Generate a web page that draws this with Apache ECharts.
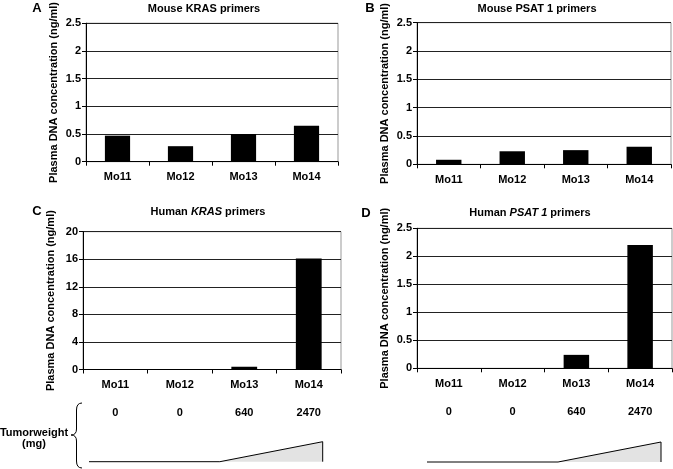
<!DOCTYPE html>
<html>
<head>
<meta charset="utf-8">
<script src="https://cdn.jsdelivr.net/npm/echarts@6/dist/echarts.min.js"></script>
<style>
html,body{margin:0;padding:0;background:#fff;}
#c{width:673px;height:469px;}
</style>
</head>
<body>
<div id="c"></div>
<script>
// ---- data ----
const categories = ['Mo11', 'Mo12', 'Mo13', 'Mo14'];
const mouseKras = [0.47, 0.28, 0.5, 0.65];
const mousePsat = [0.08, 0.23, 0.25, 0.31];
const humanKras = [0, 0, 0.4, 16.1];
const humanPsat = [0, 0, 0.24, 2.2];
const tumorWeights = ['0', '0', '640', '2470'];
const rampX = [0, 0.56, 1, 1];
const rampY = [0, 0, 1, 0];
const smallAxis = { min: 0, max: 2.5, interval: 0.5 };
const bigAxis = { min: 0, max: 20, interval: 4 };
const yName = 'Plasma DNA concentration (ng/ml)';

const FONT = '"Liberation Sans", Arial, Helvetica, sans-serif';
const chart = echarts.init(document.getElementById('c'), null, { renderer: 'canvas' });

const grids = [
  { left: 86, top: 22.3, width: 252, height: 139.4 },   // A
  { left: 417, top: 22.7, width: 254, height: 141.6 },  // B
  { left: 83, top: 231.7, width: 258, height: 137.8 },  // C
  { left: 417, top: 228.3, width: 255, height: 140 },   // D
  { left: 89, top: 441.7, width: 233.7, height: 20 },   // ramp left
  { left: 427, top: 442, width: 234, height: 20 }       // ramp right
].map((g, i) => Object.assign({
  show: i < 4, borderColor: '#999', borderWidth: 1, containLabel: false
}, g));

function catAxis(gi) {
  return {
    type: 'category', gridIndex: gi, data: categories,
    axisLine: { show: true, lineStyle: { color: '#000', width: 1 } },
    axisTick: { show: true, length: 4, lineStyle: { color: '#000' } },
    axisLabel: { interval: 0, margin: 10, color: '#000', fontWeight: 'bold', fontSize: 11, fontFamily: FONT },
    splitLine: { show: false }
  };
}
function weightAxis(gi) {
  return {
    type: 'category', gridIndex: gi, data: tumorWeights, position: 'bottom', offset: 31,
    axisLine: { show: false }, axisTick: { show: false },
    axisLabel: { interval: 0, margin: 7, color: '#000', fontWeight: 'bold', fontSize: 11, fontFamily: FONT },
    splitLine: { show: false }
  };
}
function valAxis(gi, sc) {
  return {
    type: 'value', gridIndex: gi, min: sc.min, max: sc.max, interval: sc.interval,
    name: yName, nameLocation: 'middle', nameGap: 27,
    nameTextStyle: { color: '#000', fontWeight: 'bold', fontSize: 11, fontFamily: FONT },
    axisLine: { show: true, lineStyle: { color: '#000', width: 1 } },
    axisTick: { show: true, length: 4, lineStyle: { color: '#000' } },
    axisLabel: { margin: 5, color: '#000', fontWeight: 'bold', fontSize: 11, fontFamily: FONT },
    splitLine: { show: true, lineStyle: { color: '#222', width: 1 } }
  };
}
function hiddenVal(gi) {
  return {
    type: 'value', gridIndex: gi, min: 0, max: 1,
    axisLine: { show: false }, axisTick: { show: false }, axisLabel: { show: false },
    splitLine: { show: false }
  };
}

const xAxes = [catAxis(0), catAxis(1), catAxis(2), catAxis(3), weightAxis(2), weightAxis(3), hiddenVal(4), hiddenVal(5)];
const yAxes = [valAxis(0, smallAxis), valAxis(1, smallAxis), valAxis(2, bigAxis), valAxis(3, smallAxis), hiddenVal(4), hiddenVal(5)];

function bars(xi, yi, data) {
  return {
    type: 'bar', xAxisIndex: xi, yAxisIndex: yi, data: data,
    barWidth: '40%', itemStyle: { color: '#000' }, silent: true
  };
}
function ramp(xi, yi) {
  return {
    type: 'line', xAxisIndex: xi, yAxisIndex: yi,
    data: rampX.map((x, i) => [x, rampY[i]]),
    symbol: 'none', lineStyle: { color: '#000', width: 1 },
    areaStyle: { color: '#e3e3e3', opacity: 1 }, silent: true, clip: false
  };
}

function txt(x, y, text, size, extra) {
  return {
    type: 'text', x: x, y: y, silent: true,
    style: Object.assign({
      text: text, fill: '#000', font: 'bold ' + size + 'px ' + FONT,
      textAlign: 'center', textVerticalAlign: 'middle'
    }, extra || {})
  };
}
const richTitle = {
  n: { fontWeight: 'bold', fontSize: 11, fontFamily: FONT, fill: '#000', color: '#000' },
  i: { fontWeight: 'bold', fontStyle: 'italic', fontSize: 11, fontFamily: FONT, fill: '#000', color: '#000' }
};
function qcurve(x1, y1, cx, cy, x2, y2) {
  return {
    type: 'bezierCurve', silent: true,
    shape: { x1: x1, y1: y1, cpx1: cx, cpy1: cy, x2: x2, y2: y2 },
    style: { stroke: '#000', lineWidth: 1, fill: null }
  };
}
function seg(x1, y1, x2, y2) {
  return {
    type: 'line', silent: true,
    shape: { x1: x1, y1: y1, x2: x2, y2: y2 },
    style: { stroke: '#000', lineWidth: 1 }
  };
}

const graphics = [
  txt(37, 8, 'A', 13),
  txt(370, 8, 'B', 13),
  txt(37, 211, 'C', 13),
  txt(366, 213, 'D', 13),
  txt(204, 9, 'Mouse KRAS primers', 11),
  txt(537, 9, 'Mouse PSAT 1 primers', 11),
  txt(208, 212, '{n|Human }{i|KRAS}{n| primers}', 11, { rich: richTitle }),
  txt(530, 213, '{n|Human }{i|PSAT 1}{n| primers}', 11, { rich: richTitle }),
  txt(34, 438, 'Tumorweight\n(mg)', 11, { lineHeight: 11 }),
  qcurve(82, 403, 76.5, 403, 76.5, 410),
  seg(76.5, 410, 76.5, 429),
  qcurve(76.5, 429, 76.5, 435, 71, 435),
  qcurve(71, 435, 76.5, 435, 76.5, 441),
  seg(76.5, 441, 76.5, 461),
  qcurve(76.5, 461, 76.5, 468, 82, 468)
];

chart.setOption({
  animation: false,
  backgroundColor: '#fff',
  grid: grids,
  xAxis: xAxes,
  yAxis: yAxes,
  series: [
    bars(0, 0, mouseKras),
    bars(1, 1, mousePsat),
    bars(2, 2, humanKras),
    bars(3, 3, humanPsat),
    ramp(6, 4),
    ramp(7, 5)
  ],
  graphic: graphics
});
</script>
</body>
</html>
